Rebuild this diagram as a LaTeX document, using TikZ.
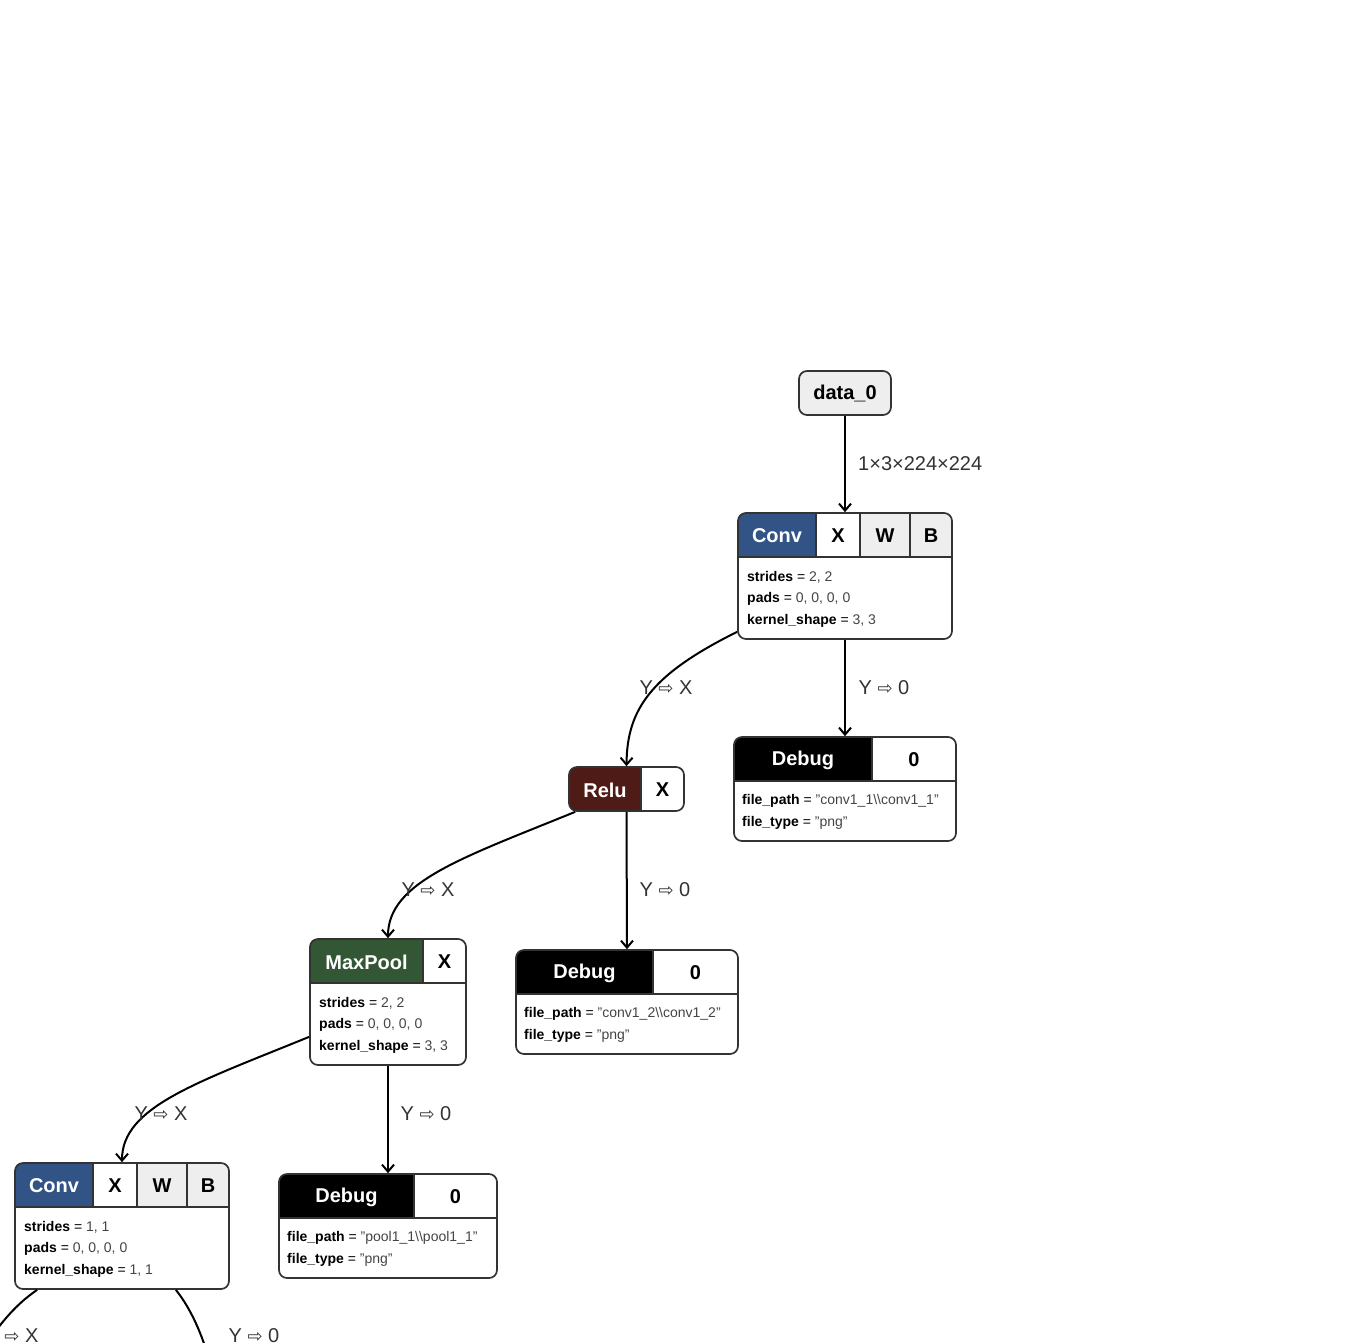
\documentclass[tikz,border=0pt]{standalone}
\usepackage{fontspec}
\setmainfont{Liberation Sans}
\newfontfamily\arrowfont{DejaVu Sans}
\usetikzlibrary{arrows.meta,calc}
\pgfdeclarelayer{bg}
\pgfsetlayers{bg,main}
\definecolor{convblue}{HTML}{325386}
\definecolor{relured}{HTML}{4E1B16}
\definecolor{poolgreen}{HTML}{335634}
\definecolor{cellgray}{HTML}{EEEEEE}
\definecolor{bordergray}{HTML}{333333}
\definecolor{valgray}{HTML}{444444}
\newcommand{\ya}{{\arrowfont\fontsize{18}{20}\selectfont ⇨}}
\newcommand{\kv}[2]{\textbf{#1} = {\color{valgray}#2}}
\begin{document}
\begin{tikzpicture}[x=1pt,y=-1pt,
  box/.style={draw=bordergray, line width=1.7pt, rounded corners=8pt, inner sep=0pt},
  div/.style={draw=bordergray, line width=1.7pt},
  hdr/.style={font=\fontsize{20}{24}\selectfont\bfseries, inner sep=0pt},
  hdrw/.style={hdr, text=white},
  attr/.style={font=\fontsize{14}{16}\selectfont, anchor=west, inner sep=0pt, text=black},
  lbl/.style={font=\fontsize{20}{24}\selectfont, text=bordergray, inner sep=0pt},
  edge/.style={line width=2pt, -{Straight Barb[length=7pt,width=12pt]}}]
\useasboundingbox (0,0) rectangle (1355,1342);
\clip (0,0) rectangle (1355,1342);

% ---------- data_0
\node[box, fill=cellgray, minimum width=92pt, minimum height=44pt, font=\fontsize{20}{24}\selectfont\bfseries] (data0) at (845,393) {\raisebox{-1pt}{data\_0}};

% ---------- Conv 1
\node[box, minimum width=214pt, minimum height=126pt] (conv1) at (845,576) {};
\begin{pgfonlayer}{bg}
\begin{scope}
\clip[rounded corners=8pt] (738,513) rectangle (952,639);
\fill[white] (738,513) rectangle (952,639);
\fill[convblue] (738,513) rectangle (816,557);
\fill[cellgray] (860,513) rectangle (952,557);
\end{scope}
\end{pgfonlayer}
\draw[div] (738,557) -- (952,557) (816,513) -- (816,557) (860,513) -- (860,557) (910,513) -- (910,557);
\node[hdrw] (conv1op) at (777,536) {Conv};
\node[hdr] (conv1x) at (838,536) {X};
\node[hdr] (conv1w) at (885,536) {W};
\node[hdr] (conv1b) at (931,536) {B};
\node[attr] (conv1a) at (747,577) {\kv{strides}{2, 2}};
\node[attr] (conv1b2) at (747,599) {\kv{pads}{0, 0, 0, 0}};
\node[attr] (conv1c) at (747,621) {\kv{kernel\_shape}{3, 3}};

% ---------- Relu
\node[box, minimum width=115pt, minimum height=44pt] (relu) at (626.5,789) {};
\begin{pgfonlayer}{bg}
\begin{scope}
\clip[rounded corners=8pt] (569,767) rectangle (684,811);
\fill[white] (569,767) rectangle (684,811);
\fill[relured] (569,767) rectangle (641,811);
\end{scope}
\end{pgfonlayer}
\draw[div] (641,767) -- (641,811);
\node[hdrw] (reluop) at (605,790) {Relu};
\node[hdr] (relux) at (662.5,790) {X};

% ---------- Debug 1
\node[box, minimum width=222pt, minimum height=104pt] (debug1) at (845,789) {};
\begin{pgfonlayer}{bg}
\begin{scope}
\clip[rounded corners=8pt] (734,737) rectangle (956,841);
\fill[white] (734,737) rectangle (956,841);
\fill[black] (734,737) rectangle (872,781);
\end{scope}
\end{pgfonlayer}
\draw[div] (734,781) -- (956,781) (872,737) -- (872,781);
\node[hdrw] (debug1op) at (803,760) {Debug};
\node[hdr] (debug1in) at (914,760) {0};
\node[attr] (debug1a) at (742,801) {\kv{file\_path}{"conv1\_1\textbackslash\textbackslash conv1\_1"}};
\node[attr] (debug1b) at (742,823) {\kv{file\_type}{"png"}};

% ---------- MaxPool
\node[box, minimum width=156pt, minimum height=126pt] (maxpool) at (388,1002) {};
\begin{pgfonlayer}{bg}
\begin{scope}
\clip[rounded corners=8pt] (310,939) rectangle (466,1065);
\fill[white] (310,939) rectangle (466,1065);
\fill[poolgreen] (310,939) rectangle (423,983);
\end{scope}
\end{pgfonlayer}
\draw[div] (310,983) -- (466,983) (423,939) -- (423,983);
\node[hdrw] (maxpoolop) at (366.5,962) {MaxPool};
\node[hdr] (maxpoolx) at (444.5,962) {X};
\node[attr] (maxpoola) at (319,1003) {\kv{strides}{2, 2}};
\node[attr] (maxpoolb) at (319,1025) {\kv{pads}{0, 0, 0, 0}};
\node[attr] (maxpoolc) at (319,1047) {\kv{kernel\_shape}{3, 3}};

% ---------- Debug 2
\node[box, minimum width=222pt, minimum height=104pt] (debug2) at (627,1002) {};
\begin{pgfonlayer}{bg}
\begin{scope}
\clip[rounded corners=8pt] (516,950) rectangle (738,1054);
\fill[white] (516,950) rectangle (738,1054);
\fill[black] (516,950) rectangle (653,994);
\end{scope}
\end{pgfonlayer}
\draw[div] (516,994) -- (738,994) (653,950) -- (653,994);
\node[hdrw] (debug2op) at (584.5,973) {Debug};
\node[hdr] (debug2in) at (695.5,973) {0};
\node[attr] (debug2a) at (524,1014) {\kv{file\_path}{"conv1\_2\textbackslash\textbackslash conv1\_2"}};
\node[attr] (debug2b) at (524,1036) {\kv{file\_type}{"png"}};

% ---------- Conv 2
\node[box, minimum width=214pt, minimum height=126pt] (conv2) at (122,1226) {};
\begin{pgfonlayer}{bg}
\begin{scope}
\clip[rounded corners=8pt] (15,1163) rectangle (229,1289);
\fill[white] (15,1163) rectangle (229,1289);
\fill[convblue] (15,1163) rectangle (93,1207);
\fill[cellgray] (137,1163) rectangle (229,1207);
\end{scope}
\end{pgfonlayer}
\draw[div] (15,1207) -- (229,1207) (93,1163) -- (93,1207) (137,1163) -- (137,1207) (187,1163) -- (187,1207);
\node[hdrw] (conv2op) at (54,1186) {Conv};
\node[hdr] (conv2x) at (115,1186) {X};
\node[hdr] (conv2w) at (162,1186) {W};
\node[hdr] (conv2bb) at (208,1186) {B};
\node[attr] (conv2a) at (24,1227) {\kv{strides}{1, 1}};
\node[attr] (conv2b) at (24,1249) {\kv{pads}{0, 0, 0, 0}};
\node[attr] (conv2c) at (24,1271) {\kv{kernel\_shape}{1, 1}};

% ---------- Debug 3
\node[box, minimum width=218pt, minimum height=104pt] (debug3) at (388,1226) {};
\begin{pgfonlayer}{bg}
\begin{scope}
\clip[rounded corners=8pt] (279,1174) rectangle (497,1278);
\fill[white] (279,1174) rectangle (497,1278);
\fill[black] (279,1174) rectangle (414,1218);
\end{scope}
\end{pgfonlayer}
\draw[div] (279,1218) -- (497,1218) (414,1174) -- (414,1218);
\node[hdrw] (debug3op) at (346.5,1197) {Debug};
\node[hdr] (debug3in) at (455.5,1197) {0};
\node[attr] (debug3a) at (287,1238) {\kv{file\_path}{"pool1\_1\textbackslash\textbackslash pool1\_1"}};
\node[attr] (debug3b) at (287,1260) {\kv{file\_type}{"png"}};

% ---------- off-picture targets
\coordinate (offL) at (-45,1400);
\coordinate (offR) at (222,1430);

% ---------- connectors
\draw[edge] (data0.south) -- (conv1.north);
\draw[edge] ([yshift=8pt]conv1.south west) .. controls (650,675) and (627,710) .. (relu.north);
\draw[edge] (conv1.south) -- (debug1.north);
\draw[edge] ([xshift=7pt]relu.south west) .. controls (462,858) and (388,882) .. (maxpool.north);
\draw[edge] (relu.south) -- (debug2.north);
\draw[edge] ([yshift=29pt]maxpool.south west) .. controls (196,1083) and (122,1107) .. (conv2.north);
\draw[edge] (maxpool.south) -- (debug3.north);
\draw[edge] ([xshift=23pt]conv2.south west) .. controls (15,1305) and (-10,1330) .. (offL);
\draw[edge] ([xshift=-54pt]conv2.south east) .. controls (200,1320) and (216,1370) .. (offR);

% ---------- labels
\node[lbl, anchor=west] (lab0) at (858,464) {1×3×224×224};
\node[lbl] (lab1) at (666,688) {Y \ya{} X};
\node[lbl] (lab2) at (884,688) {Y \ya{} 0};
\node[lbl] (lab3) at (428,890) {Y \ya{} X};
\node[lbl] (lab4) at (665,890) {Y \ya{} 0};
\node[lbl] (lab5) at (161,1114) {Y \ya{} X};
\node[lbl] (lab6) at (426,1114) {Y \ya{} 0};
\node[lbl] (lab7) at (12,1336) {Y \ya{} X};
\node[lbl] (lab8) at (254,1336) {Y \ya{} 0};
\end{tikzpicture}
\end{document}
